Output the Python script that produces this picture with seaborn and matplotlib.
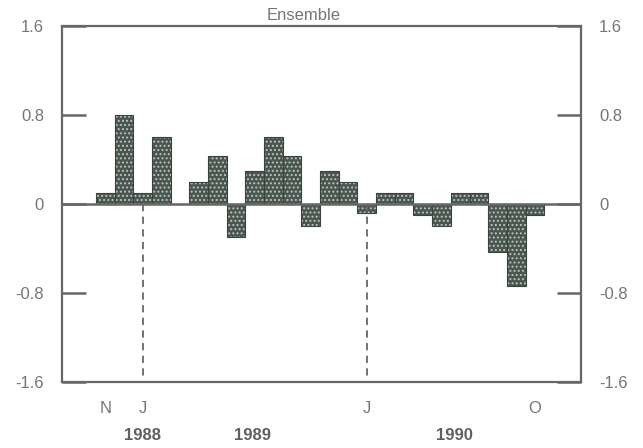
import matplotlib
matplotlib.use("Agg")
import matplotlib.pyplot as plt
import matplotlib.transforms as mtransforms
import seaborn as sns
import pandas as pd

# monthly ensemble anomaly, Nov .. Oct (24 months)
months = list(range(24))
values = [0.1, 0.8, 0.1, 0.6, 0.0, 0.2, 0.43, -0.3, 0.3, 0.6, 0.43, -0.2,
          0.3, 0.2, -0.08, 0.1, 0.1, -0.1, -0.2, 0.1, 0.1, -0.43, -0.74, -0.1]
month_ticks = [0, 2, 14, 23]
month_labels = ["N", "J", "J", "O"]
year_pos = [2, 7.9, 18.7]
year_labels = ["1988", "1989", "1990"]
dashed_at = [2, 14]

df = pd.DataFrame({"month": months, "value": values})

sns.set_style("white")
plt.rcParams["font.family"] = ["Liberation Sans", "DejaVu Sans"]
plt.rcParams["hatch.linewidth"] = 0.9

fig = plt.figure(figsize=(6.43, 4.48), dpi=100)
ax = fig.add_axes([0.0964, 0.1473, 0.8072, 0.7947])

grey = "#656865"
txt = "#747674"

# stippled fill
sns.barplot(data=df, x="month", y="value", color="#4a5750", width=1.0,
            edgecolor="#bfc6c0", linewidth=0, hatch="....", ax=ax,
            saturation=1, errorbar=None)
# dark outlines
sns.barplot(data=df, x="month", y="value", color="#3a433e", width=1.0,
            fill=False, linewidth=0.8, ax=ax, errorbar=None)

ax.set_xlim(-2.32, 25.47)
ax.set_ylim(-1.6, 1.6)

ax.axhline(0, color=grey, lw=1.8, zorder=5)
for d in dashed_at:
    ax.plot([d, d], [0, -1.6], color=grey, lw=1.3, ls=(0, (4, 3)), zorder=1)

for s in ax.spines.values():
    s.set_color(grey)
    s.set_linewidth(1.6)

ax.set_yticks([-1.6, -0.8, 0, 0.8, 1.6])
ax.set_yticklabels(["-1.6", "-0.8", "0", "0.8", "1.6"])
ax.tick_params(axis="y", direction="in", length=17, width=1.8, color=grey,
               labelsize=12, labelcolor=txt, pad=13,
               left=True, right=True, labelleft=True, labelright=True)

ax.set_xticks(month_ticks)
ax.set_xticklabels(month_labels)
ax.tick_params(axis="x", length=0, labelsize=12, labelcolor=txt, pad=14)
ax.set_xlabel("")
ax.set_ylabel("")

trans = mtransforms.blended_transform_factory(ax.transData, ax.transAxes)
for p, lab in zip(year_pos, year_labels):
    ax.text(p, -0.149, lab, transform=trans, ha="center", va="center",
            fontsize=12, fontweight="bold", color="#5f615f")

ax.text(10.6, 1.03, "Ensemble", transform=trans, ha="center", va="center",
        fontsize=12, color=txt)

fig.savefig("out.png", dpi=100)
